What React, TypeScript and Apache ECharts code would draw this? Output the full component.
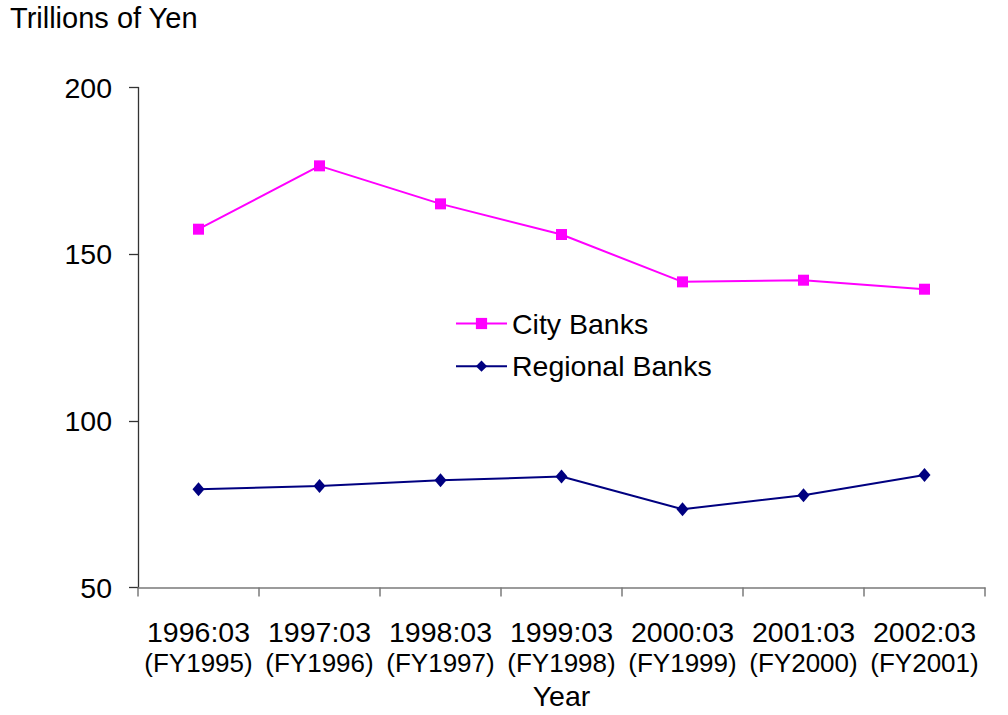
import React, { useEffect, useRef } from "react";
import * as echarts from "echarts";

// Fiscal-year end dates and the matching fiscal years
const periods = ["1996:03", "1997:03", "1998:03", "1999:03", "2000:03", "2001:03", "2002:03"];
const fiscalYears = ["FY1995", "FY1996", "FY1997", "FY1998", "FY1999", "FY2000", "FY2001"];

// Trillions of yen
const cityBanks = [157.5, 176.5, 165.1, 155.9, 141.7, 142.2, 139.5];
const regionalBanks = [79.5, 80.5, 82.2, 83.3, 73.5, 77.7, 83.8];

const yTicks = { min: 50, max: 200, interval: 50 };

const FONT = "'Liberation Sans', Arial, sans-serif";

export default function App() {
  const ref = useRef<HTMLDivElement>(null);

  useEffect(() => {
    document.body.style.margin = "0";
    if (!ref.current) return;
    const chart = echarts.init(ref.current, null, { renderer: "svg" });
    const categories = periods.map((p, i) => `${p}\n(${fiscalYears[i]})`);

    chart.setOption({
      animation: false,
      backgroundColor: "#ffffff",
      textStyle: { fontFamily: FONT, color: "#000" },
      grid: { left: 138, top: 87.5, right: 23, bottom: 121, containLabel: false },
      graphic: [
        {
          type: "text",
          left: 10,
          top: 3,
          style: { text: "Trillions of Yen", font: `29px ${FONT}`, fill: "#000" },
        },
      ],
      legend: {
        orient: "vertical",
        left: 455,
        top: 308,
        padding: 0,
        itemWidth: 51,
        itemHeight: 14,
        itemGap: 11.7,
        textStyle: { fontSize: 28.5, fontFamily: FONT, color: "#000", lineHeight: 31 },
        data: ["City Banks", "Regional Banks"],
      },
      xAxis: {
        type: "category",
        data: categories,
        boundaryGap: true,
        name: "Year",
        nameLocation: "middle",
        nameGap: 88,
        nameTextStyle: { fontSize: 28.5, fontFamily: FONT, color: "#000", lineHeight: 29 },
        axisLine: { lineStyle: { color: "#7a7a7a", width: 1.5 } },
        axisTick: { show: true, length: 9, lineStyle: { color: "#7a7a7a", width: 1.5 } },
        axisLabel: {
          margin: 28,
          interval: 0,
          formatter: (v: string) => {
            const [a, b] = v.split("\n");
            return `{a|${a}}\n{b|${b}}`;
          },
          rich: {
            a: { fontSize: 28.5, fontFamily: FONT, color: "#000", lineHeight: 32 },
            b: { fontSize: 26, fontFamily: FONT, color: "#000", lineHeight: 31 },
          },
        },
        splitLine: { show: false },
      },
      yAxis: {
        type: "value",
        min: yTicks.min,
        max: yTicks.max,
        interval: yTicks.interval,
        axisLine: { show: true, lineStyle: { color: "#333", width: 1.3 } },
        axisTick: { show: true, length: 9, lineStyle: { color: "#333", width: 1.3 } },
        axisLabel: { margin: 26, fontSize: 28.5, fontFamily: FONT, color: "#000" },
        splitLine: { show: false },
      },
      series: [
        {
          name: "City Banks",
          type: "line",
          data: cityBanks,
          symbol: "rect",
          symbolSize: 11,
          lineStyle: { color: "#ff00ff", width: 2 },
          itemStyle: { color: "#ff00ff" },
        },
        {
          name: "Regional Banks",
          type: "line",
          data: regionalBanks,
          symbol: "diamond",
          symbolSize: [12, 14],
          lineStyle: { color: "#000080", width: 2 },
          itemStyle: { color: "#000080" },
        },
      ],
    });

    return () => chart.dispose();
  }, []);

  return <div ref={ref} style={{ width: 1008, height: 715 }} />;
}
